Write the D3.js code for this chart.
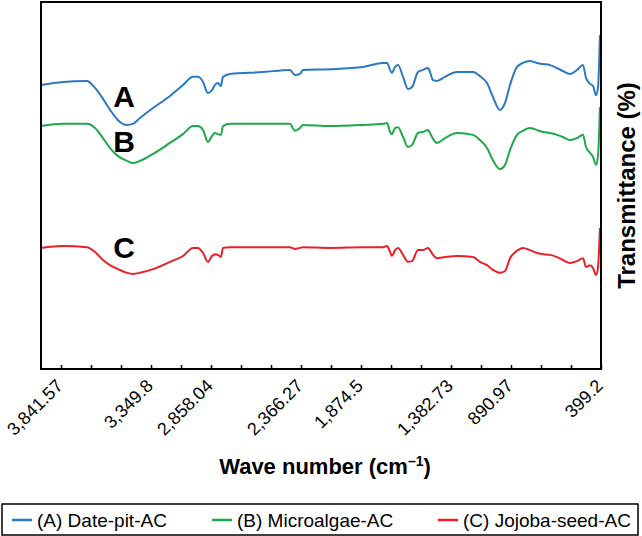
<!DOCTYPE html>
<html><head><meta charset="utf-8">
<script src="https://cdn.jsdelivr.net/npm/d3@7"></script>
<style>body{margin:0;background:#fff}</style>
</head><body><svg id="c" width="642" height="536"></svg>
<script>
const waveNumbers = [3969,3829,3676,3625,3574,3529,3478,3421,3383,3338,3255,3147,3064,3000,2968,2936,2905,2879,2860,2841,2822,2809,2764,2554,2382,2350,2318,2299,2127,1916,1789,1763,1744,1732,1712,1693,1661,1630,1604,1566,1534,1502,1489,1470,1445,1394,1317,1215,1171,1126,1088,1043,1011,979,935,897,852,807,769,724,680,642,597,552,514,495,469,450,431,418,406];
const datePitAC = [77.4,78.2,78.5,76.6,73.6,70.6,67.8,66.5,66.8,68.4,71.1,74.4,77.4,79.6,79.6,78.2,75.2,76.0,77.4,77.9,77.1,79.6,80.4,80.9,81.5,80.1,80.4,81.5,81.7,82.3,83.4,83.4,81.5,80.7,82.3,82.8,79.6,76.3,76.8,80.9,81.5,82.0,80.9,78.7,78.5,79.6,80.9,80.9,79.8,77.9,74.1,70.6,72.5,77.4,82.3,83.4,83.9,83.4,83.1,82.8,82.0,81.2,80.4,81.5,82.8,79.3,77.7,77.1,74.6,76.8,91.0];
const microalgaeAC = [66.2,66.8,66.8,65.7,62.9,60.2,58.0,56.7,56.1,56.7,58.6,61.6,64.0,66.2,66.2,65.1,61.9,63.5,64.3,64.0,63.8,66.2,66.8,66.8,66.8,64.9,65.7,66.5,66.2,66.5,66.8,67.0,64.6,64.0,65.7,65.9,63.2,60.5,61.0,64.3,64.6,65.1,64.3,62.7,61.6,62.9,64.3,63.8,62.4,60.2,56.9,54.5,55.6,59.7,63.8,64.9,65.7,65.1,64.6,64.3,63.8,63.2,62.4,62.9,63.8,60.5,58.9,57.8,55.6,58.3,71.4];
const jojobaSeedAC = [33.0,33.5,33.2,31.9,29.7,28.3,27.2,26.2,25.9,26.2,27.2,29.2,30.8,33.0,33.0,31.6,29.2,30.8,31.3,31.1,30.5,33.0,33.2,33.2,33.2,32.7,33.0,33.2,33.0,33.2,33.2,33.5,31.9,30.8,32.4,33.0,31.1,29.2,29.4,32.4,32.4,33.0,32.4,31.1,30.2,30.5,30.8,30.5,29.2,28.3,27.0,26.2,26.7,30.2,32.2,33.0,32.4,31.6,31.3,31.1,30.5,29.7,28.9,29.4,30.2,27.8,28.3,27.5,25.6,27.8,38.4];
const tickLabels = [3841.57, 3349.8, 2858.04, 2366.27, 1874.5, 1382.73, 890.97, 399.2];
const seriesNames = ["(A) Date-pit-AC", "(B) Microalgae-AC", "(C) Jojoba-seed-AC"];
const curveLetters = ["A", "B", "C"];
const letterValues = [71.4, 59.1, 30.2];
const colors = ["#2b78c2", "#1ea84a", "#ea2027"];

const FONT = "'Liberation Sans', Arial, sans-serif";
const svg = d3.select("#c");
const L = 41, R = 601, T = 2, B = 369;
const x = d3.scaleLinear().domain([3969.1, 399.2]).range([L, R]);
const y = d3.scaleLinear().domain([0, 100]).range([B, T]);

const series = [datePitAC, microalgaeAC, jojobaSeedAC];
const line = d3.line().x(d => x(d[0])).y(d => y(d[1])).curve(d3.curveMonotoneX);
series.forEach((vals, i) => {
  svg.append("path")
    .datum(waveNumbers.map((w, j) => [w, vals[j]]))
    .attr("d", line).attr("fill", "none")
    .attr("stroke", colors[i]).attr("stroke-width", 2)
    .attr("stroke-linejoin", "round");
});

// minor ticks: 19 evenly spaced from first to last label
const first = tickLabels[0], last = tickLabels[tickLabels.length - 1];
const nT = 18;
const minorTicks = d3.range(nT + 1).map(i => first - i * (first - last) / nT);
svg.append("g").attr("transform", `translate(0,${B})`)
  .call(d3.axisBottom(x).tickValues(minorTicks).tickSize(-4).tickFormat(""))
  .call(g => g.select(".domain").remove())
  .call(g => g.selectAll("line").attr("stroke", "#000").attr("stroke-width", 1.5));

// frame
svg.append("rect").attr("x", L).attr("y", T).attr("width", R - L).attr("height", B - T)
  .attr("fill", "none").attr("stroke", "#000").attr("stroke-width", 2);

// labels snapped to nearest tick
const fmt = d3.format(",");
tickLabels.forEach(v => {
  const near = minorTicks.reduce((a, b) => Math.abs(b - v) < Math.abs(a - v) ? b : a);
  svg.append("text")
    .attr("transform", `translate(${x(near) + 3},${B + 18}) rotate(-45)`)
    .attr("text-anchor", "end")
    .attr("font-family", FONT)
    .attr("font-size", 18).attr("fill", "#000")
    .text(fmt(v));
});

// curve letters
curveLetters.forEach((c, i) => {
  svg.append("text").attr("x", x(3440)).attr("y", y(letterValues[i]))
    .attr("text-anchor", "middle")
    .attr("font-family", FONT)
    .attr("font-weight", "bold").attr("font-size", 30).text(c);
});

// x title
const xt = svg.append("text").attr("x", 325).attr("y", 474).attr("text-anchor", "middle")
  .attr("font-family", FONT)
  .attr("font-weight", "bold").attr("font-size", 22);
xt.append("tspan").text("Wave number (cm");
xt.append("tspan").attr("dy", -8).attr("font-size", 14).text("\u20131");
xt.append("tspan").attr("dy", 8).text(")");

// y title
svg.append("text").attr("transform", `translate(635,${(T + B) / 2}) rotate(-90)`)
  .attr("text-anchor", "middle")
  .attr("font-family", FONT)
  .attr("font-weight", "bold").attr("font-size", 24).text("Transmittance (%)");

// legend
svg.append("rect").attr("x", 2).attr("y", 504).attr("width", 636).attr("height", 31)
  .attr("fill", "none").attr("stroke", "#000").attr("stroke-width", 1.5);
const legX = [12, 212, 438];
seriesNames.forEach((n, i) => {
  svg.append("line").attr("x1", legX[i]).attr("x2", legX[i] + 20)
    .attr("y1", 520).attr("y2", 520).attr("stroke", colors[i]).attr("stroke-width", 2.5);
  svg.append("text").attr("x", legX[i] + 25).attr("y", 527)
    .attr("font-family", FONT)
    .attr("font-size", 19).text(n);
});
</script></body></html>
